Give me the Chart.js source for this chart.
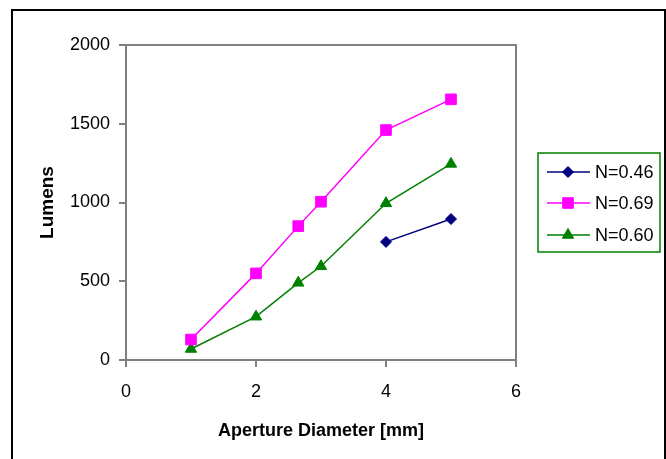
<!DOCTYPE html>
<html>
<head>
<meta charset="utf-8">
<script src="https://cdn.jsdelivr.net/npm/chart.js@4/dist/chart.umd.min.js"></script>
<style>
  html, body { margin: 0; padding: 0; background: #fff; }
  #wrap { width: 666px; height: 459px; position: relative; }
</style>
</head>
<body>
<div id="wrap"><canvas id="c" width="666" height="459"></canvas></div>
<script>
// ---- data ----
const diameters = [1, 2, 2.65, 3, 4, 5];
const diametersN046 = [4, 5];
const lumensN046 = [750, 895];
const lumensN069 = [130, 550, 850, 1005, 1460, 1655];
const lumensN060 = [70, 275, 490, 595, 995, 1245];
const seriesNames = ['N=0.46', 'N=0.69', 'N=0.60'];
const xTicks = [0, 2, 4, 6];
const yTicks = [0, 500, 1000, 1500, 2000];

const FONT = '"Liberation Sans", Arial, sans-serif';
const pts = (xs, ys) => xs.map((x, i) => ({ x: x, y: ys[i] }));

const frame = {
  id: 'frame',
  beforeDraw(chart) {
    const ctx = chart.ctx;
    ctx.save();
    ctx.fillStyle = '#fff';
    ctx.fillRect(0, 0, chart.width, chart.height);
    ctx.strokeStyle = '#000';
    ctx.lineWidth = 2;
    ctx.strokeRect(12, 10, 653, 480);
    ctx.restore();
  },
  beforeDatasetsDraw(chart) {
    const a = chart.chartArea, ctx = chart.ctx;
    ctx.save();
    ctx.strokeStyle = '#808080';
    ctx.lineWidth = 2;
    ctx.strokeRect(a.left, a.top, a.right - a.left, a.bottom - a.top);
    ctx.restore();
  }
};

const boxLegend = {
  id: 'boxLegend',
  afterDraw(chart) {
    const ctx = chart.ctx;
    const bx = 538, by = 153, bw = 122, bh = 99;
    ctx.save();
    ctx.strokeStyle = '#008000';
    ctx.lineWidth = 1.5;
    ctx.strokeRect(bx, by, bw, bh);
    const rows = [172, 203, 235];
    chart.data.datasets.forEach((ds, i) => {
      const y = rows[i];
      ctx.strokeStyle = ds.borderColor;
      ctx.lineWidth = ds.borderWidth;
      ctx.beginPath();
      ctx.moveTo(547, y);
      ctx.lineTo(590, y);
      ctx.stroke();
      ctx.fillStyle = ds.pointBackgroundColor;
      ctx.strokeStyle = ds.pointBorderColor;
      ctx.lineWidth = 1;
      Chart.helpers.drawPoint(ctx, {
        pointStyle: ds.pointStyle,
        radius: ds.pointRadius,
        rotation: 0,
        borderWidth: 1
      }, 568, y);
      ctx.fillStyle = '#000';
      ctx.font = '18px ' + FONT;
      ctx.textBaseline = 'middle';
      ctx.textAlign = 'left';
      ctx.fillText(ds.label, 595, y + 1);
    });
    ctx.restore();
  }
};

new Chart(document.getElementById('c'), {
  type: 'scatter',
  data: {
    datasets: [
      { label: seriesNames[0], data: pts(diametersN046, lumensN046), showLine: true,
        borderColor: '#000080', backgroundColor: '#000080', borderWidth: 1.5,
        pointStyle: 'rectRot', pointRadius: 5.5, pointBackgroundColor: '#000080', pointBorderColor: '#000080', pointBorderWidth: 1 },
      { label: seriesNames[1], data: pts(diameters, lumensN069), showLine: true,
        borderColor: '#FF00FF', backgroundColor: '#FF00FF', borderWidth: 1.5,
        pointStyle: 'rect', pointRadius: 7.5, pointBackgroundColor: '#FF00FF', pointBorderColor: '#FF00FF', pointBorderWidth: 1 },
      { label: seriesNames[2], data: pts(diameters, lumensN060), showLine: true,
        borderColor: '#008000', backgroundColor: '#008000', borderWidth: 1.5,
        pointStyle: 'triangle', pointRadius: 6.5, pointBackgroundColor: '#008000', pointBorderColor: '#008000', pointBorderWidth: 1 }
    ]
  },
  options: {
    responsive: false,
    animation: false,
    events: [],
    layout: { padding: { left: 0, right: 150, top: 45, bottom: 0 } },
    plugins: { legend: { display: false }, tooltip: { enabled: false } },
    scales: {
      x: {
        type: 'linear', min: 0, max: 6,
        afterBuildTicks: s => { s.ticks = xTicks.map(v => ({ value: v })); },
        afterFit: s => { s.height = 99; },
        border: { display: false },
        grid: { drawOnChartArea: false, drawTicks: true, tickLength: 7, color: '#808080', lineWidth: 2 },
        ticks: { color: '#000', font: { family: FONT, size: 18 }, padding: 14, maxRotation: 0,
                 callback: v => String(v) },
        title: { display: true, text: 'Aperture Diameter [mm]', color: '#000',
                 font: { family: FONT, size: 18, weight: 'bold' }, padding: { top: 0, bottom: 17 } }
      },
      y: {
        type: 'linear', min: 0, max: 2000,
        afterBuildTicks: s => { s.ticks = yTicks.map(v => ({ value: v })); },
        afterFit: s => { s.width = 126; },
        border: { display: false },
        grid: { drawOnChartArea: false, drawTicks: true, tickLength: 7, color: '#808080', lineWidth: 2 },
        ticks: { color: '#000', font: { family: FONT, size: 18 }, padding: 9,
                 callback: v => String(v) },
        title: { display: true, text: 'Lumens', color: '#000',
                 font: { family: FONT, size: 19, weight: 'bold' }, padding: { top: 36, bottom: 0 } }
      }
    }
  },
  plugins: [frame, boxLegend]
});
</script>
</body>
</html>
